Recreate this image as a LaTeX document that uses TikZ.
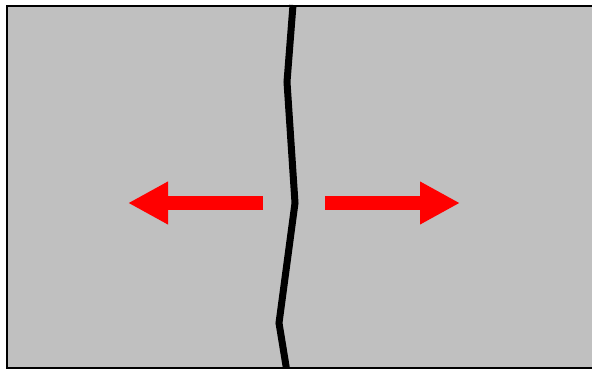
\documentclass[tikz,border=0pt]{standalone}
\usetikzlibrary{arrows.meta}
\definecolor{PlateGray}{RGB}{192,192,192}
\definecolor{PullRed}{RGB}{255,0,0}
\tikzset{
  pull/.style={draw=PullRed,line width=14pt,-{Triangle[length=40pt,width=40pt]}},
  crack/.style={draw=black,line width=7pt}
}
\begin{document}
\begin{tikzpicture}[x=1pt,y=-1pt]
  \useasboundingbox (0,0) rectangle (592,369);
  % plate
  \draw[fill=PlateGray,draw=black,line width=2.5pt] (7,6) rectangle (600,368);
  % crack
  \draw[crack] (293,5) -- (287,82) -- (295,203) -- (279,323) -- (287,372);
  % pulling forces
  \coordinate (lstart) at (263,203);
  \coordinate (ltip) at (128,203);
  \coordinate (rstart) at (325,203);
  \coordinate (rtip) at (460,203);
  \draw[pull] (lstart) -- (ltip);
  \draw[pull] (rstart) -- (rtip);
\end{tikzpicture}
\end{document}
